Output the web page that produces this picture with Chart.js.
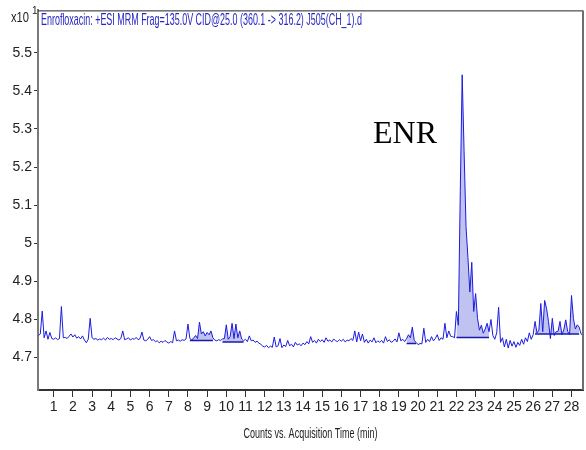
<!DOCTYPE html>
<html lang="en">
<head>
    <meta charset="UTF-8">
    <title>Enrofloxacin MRM chromatogram</title>
    <script src="https://cdn.jsdelivr.net/npm/chart.js"></script>
    <style>
        body { margin: 0; background: #fff; }
        #wrap { width: 586px; height: 450px; }
    </style>
</head>
<body>
    <div id="wrap"><canvas id="chrom" width="586" height="450"></canvas></div>

    <script>
        // acquisition grid (min) and detector counts (x10^1), one row per minute
        const startTime = 0.2;
        const timeStep = 0.1;
        const counts = [
            4.758, 4.762, 4.822, 4.752, 4.770, 4.748, 4.766, 4.750,
            4.748, 4.752, 4.747, 4.750, 4.834, 4.752, 4.753, 4.750, 4.756, 4.762,
            4.754, 4.760, 4.751, 4.755, 4.749, 4.757, 4.746, 4.739, 4.748, 4.803,
            4.752, 4.748, 4.750, 4.746, 4.749, 4.747, 4.751, 4.746, 4.753, 4.748,
            4.750, 4.747, 4.752, 4.749, 4.746, 4.750, 4.770, 4.747, 4.749, 4.752,
            4.746, 4.750, 4.748, 4.753, 4.747, 4.750, 4.767, 4.746, 4.744, 4.748,
            4.755, 4.745, 4.747, 4.742, 4.744, 4.739, 4.743, 4.740, 4.745, 4.741,
            4.738, 4.742, 4.739, 4.770, 4.744, 4.746, 4.743, 4.747, 4.745, 4.749,
            4.788, 4.750, 4.746, 4.752, 4.758, 4.750, 4.793, 4.762, 4.768, 4.757,
            4.766, 4.760, 4.770, 4.752, 4.746, 4.744, 4.747, 4.745, 4.749, 4.750,
            4.786, 4.748, 4.755, 4.790, 4.750, 4.788, 4.752, 4.770, 4.749, 4.744,
            4.748, 4.742, 4.757, 4.744, 4.746, 4.740, 4.743, 4.738, 4.735, 4.730,
            4.728, 4.732, 4.726, 4.730, 4.727, 4.754, 4.728, 4.731, 4.750, 4.726,
            4.733, 4.729, 4.745, 4.731, 4.735, 4.728, 4.740, 4.733, 4.736, 4.731,
            4.738, 4.734, 4.742, 4.736, 4.755, 4.740, 4.745, 4.738, 4.748, 4.742,
            4.747, 4.740, 4.752, 4.743, 4.746, 4.741, 4.749, 4.744, 4.742, 4.747,
            4.743, 4.748, 4.741, 4.746, 4.744, 4.750, 4.745, 4.770, 4.741, 4.767,
            4.744, 4.762, 4.740, 4.748, 4.738, 4.746, 4.741, 4.752, 4.739, 4.744,
            4.740, 4.745, 4.738, 4.755, 4.742, 4.747, 4.740, 4.743, 4.749, 4.741,
            4.765, 4.744, 4.748, 4.742, 4.750, 4.760, 4.752, 4.780, 4.745, 4.740,
            4.734, 4.737, 4.736, 4.777, 4.740, 4.748, 4.742, 4.755, 4.744, 4.750,
            4.760, 4.745, 4.752, 4.748, 4.790, 4.752, 4.770, 4.756, 4.755, 4.752,
            4.821, 4.785, 5.135, 5.442, 5.240, 5.044, 4.962, 4.872, 4.950, 4.821,
            4.868, 4.803, 4.772, 4.785, 4.764, 4.775, 4.790, 4.768, 4.800, 4.758,
            4.748, 4.765, 4.832, 4.740, 4.752, 4.728, 4.748, 4.725, 4.745, 4.730,
            4.742, 4.727, 4.740, 4.732, 4.748, 4.735, 4.752, 4.742, 4.765, 4.748,
            4.760, 4.795, 4.765, 4.772, 4.842, 4.768, 4.850, 4.829, 4.795, 4.750,
            4.803, 4.758, 4.768, 4.769, 4.795, 4.760, 4.773, 4.799, 4.769, 4.760,
            4.863, 4.803, 4.775, 4.786, 4.780, 4.762, 4.757
        ];

        // integrated peaks: start, end (min) and baseline level
        const peakStart = [8.1, 9.8, 19.4, 22.0, 26.1];
        const peakEnd   = [9.3, 10.9, 19.9, 23.7, 28.4];
        const peakBase  = [4.745, 4.741, 4.737, 4.753, 4.762];

        const xTicks = [1, 2, 3, 4, 5, 6, 7, 8, 9, 10, 11, 12, 13, 14, 15, 16, 17, 18, 19, 20, 21, 22, 23, 24, 25, 26, 27, 28];
        const yTicks = [4.7, 4.8, 4.9, 5, 5.1, 5.2, 5.3, 5.4, 5.5];

        const title = 'Enrofloxacin: +ESI MRM Frag=135.0V CID@25.0 (360.1 -> 316.2) J505(CH_1).d';
        const xTitle = 'Counts vs. Acquisition Time (min)';
        const peakName = 'ENR';

        const NARROW = '"Liberation Sans Narrow", "Arial Narrow", Arial, sans-serif';
        const TRACE = '#1c1ce0';

        const trace = counts.map((y, i) => ({ x: +(startTime + i * timeStep).toFixed(2), y }));

        const datasets = [{
            data: trace,
            borderColor: TRACE,
            borderWidth: 1,
            pointRadius: 0,
            fill: false
        }];

        peakStart.forEach((s, k) => {
            datasets.push({
                data: [{ x: s, y: peakBase[k] }, { x: peakEnd[k], y: peakBase[k] }],
                borderColor: '#1a1aa8',
                borderWidth: 1.5,
                pointRadius: 0,
                fill: false
            });
        });
        peakStart.forEach((s, k) => {
            datasets.push({
                data: trace.filter(p => p.x >= s && p.x <= peakEnd[k]),
                borderWidth: 0,
                pointRadius: 0,
                backgroundColor: 'rgba(105, 110, 220, 0.42)',
                fill: { value: peakBase[k] }
            });
        });

        const decor = {
            id: 'decor',
            afterDraw(chart) {
                const { ctx, chartArea: a } = chart;
                ctx.save();
                // frame top and right edge
                ctx.strokeStyle = '#222';
                ctx.lineWidth = 1;
                ctx.beginPath();
                ctx.moveTo(a.left, a.top + 0.5);
                ctx.lineTo(a.right, a.top + 0.5);
                ctx.stroke();
                ctx.strokeStyle = '#6e6e6e';
                ctx.lineWidth = 2;
                ctx.beginPath();
                ctx.moveTo(a.right, a.top);
                ctx.lineTo(a.right, a.bottom);
                ctx.stroke();

                ctx.textBaseline = 'alphabetic';
                ctx.textAlign = 'left';
                ctx.fillStyle = '#2626c4';
                ctx.font = '17px ' + NARROW;
                ctx.fillText(title, a.left + 3, 25, 321);

                ctx.fillStyle = '#222';
                ctx.font = '15px ' + NARROW;
                ctx.fillText('x10', 11, 22, 18);
                ctx.font = '10px ' + NARROW;
                ctx.fillText('1', 32, 14);

                ctx.textAlign = 'center';
                ctx.font = '15px ' + NARROW;
                ctx.fillText(xTitle, (a.left + a.right) / 2, 438, 134);

                ctx.textAlign = 'left';
                ctx.fillStyle = '#000';
                ctx.font = '32px "Liberation Serif", "Times New Roman", serif';
                ctx.fillText(peakName, 373, 143);
                ctx.restore();
            }
        };

        new Chart(document.getElementById('chrom'), {
            type: 'line',
            data: { datasets },
            plugins: [decor],
            options: {
                responsive: false,
                animation: false,
                layout: { padding: { top: 4, right: 3, left: 0, bottom: 0 } },
                plugins: { legend: { display: false }, tooltip: { enabled: false } },
                elements: { line: { tension: 0 } },
                scales: {
                    x: {
                        type: 'linear',
                        min: 0.18,
                        max: 28.6,
                        afterFit(scale) { scale.height = 60; },
                        afterBuildTicks(scale) { scale.ticks = xTicks.map(v => ({ value: v })); },
                        ticks: {
                            autoSkip: false,
                            maxRotation: 0,
                            padding: 2,
                            color: '#222',
                            font: { family: NARROW, size: 14 }
                        },
                        grid: { drawOnChartArea: false, tickLength: 7, color: '#333', tickWidth: 1 },
                        border: { color: '#333', width: 2 }
                    },
                    y: {
                        type: 'linear',
                        min: 4.615,
                        max: 5.611,
                        afterFit(scale) { scale.width = 38; },
                        afterBuildTicks(scale) { scale.ticks = yTicks.map(v => ({ value: v })); },
                        ticks: {
                            autoSkip: false,
                            padding: 2,
                            color: '#222',
                            font: { family: NARROW, size: 14 },
                            callback: v => String(v)
                        },
                        grid: { drawOnChartArea: false, tickLength: 4, color: '#333', tickWidth: 1 },
                        border: { color: '#7a7a7a', width: 2 }
                    }
                }
            }
        });
    </script>
</body>
</html>
